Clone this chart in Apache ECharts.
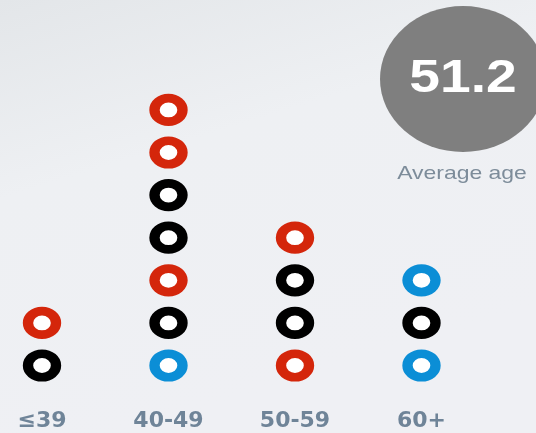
<!DOCTYPE html>
<html>
<head>
<meta charset="utf-8">
<title>Average age</title>
<script src="https://cdn.jsdelivr.net/npm/echarts@6/dist/echarts.min.js"></script>
<style>
  html, body { margin: 0; padding: 0; background: #eef0f4; }
  #chart { width: 536px; height: 433px; }
</style>
</head>
<body>
<div id="chart"></div>
<script>
// Age groups along the bottom
const ageGroups = ['≤39', '40-49', '50-59', '60+'];

// Each group's rings, listed bottom to top
const ringsUpTo39 = ['black', 'red'];
const rings40to49 = ['blue', 'black', 'red', 'black', 'black', 'red', 'red'];
const rings50to59 = ['red', 'black', 'black', 'red'];
const rings60plus = ['blue', 'black', 'blue'];

// Headline figure
const averageAge = '51.2';
const averageLabel = 'Average age';

const ringColors = { red: '#d4260b', black: '#000000', blue: '#0b8ed6' };

const stacks = [ringsUpTo39, rings40to49, rings50to59, rings60plus];

// One scatter series per ring colour; a point sits at (group, position in stack)
const series = Object.keys(ringColors).map(function (key) {
  const data = [];
  stacks.forEach(function (stack, gi) {
    stack.forEach(function (c, level) {
      if (c === key) data.push([ageGroups[gi], level + 1]);
    });
  });
  return {
    name: key,
    type: 'scatter',
    data: data,
    symbol: 'circle',
    symbolSize: [28, 23.5],
    itemStyle: {
      color: '#ffffff',
      borderColor: ringColors[key],
      borderWidth: 9.5,
      opacity: 1
    },
    emphasis: { disabled: true },
    silent: true
  };
});

const chart = echarts.init(document.getElementById('chart'), null, { renderer: 'canvas' });

chart.setOption({
  animation: false,
  backgroundColor: {
    type: 'linear', x: 0, y: 0, x2: 0.25, y2: 1,
    colorStops: [
      { offset: 0, color: '#e3e6e9' },
      { offset: 0.42, color: '#eef0f3' },
      { offset: 1, color: '#eff0f4' }
    ]
  },
  grid: { left: 42, right: 114.5, top: 67.3, bottom: 24.9, containLabel: false },
  xAxis: {
    type: 'category',
    data: ageGroups,
    boundaryGap: false,
    axisLine: { show: false },
    axisTick: { show: false },
    splitLine: { show: false },
    axisLabel: {
      margin: 2,
      color: '#6f8498',
      fontFamily: 'DejaVu Sans',
      fontWeight: 'bold',
      fontSize: 22
    }
  },
  yAxis: {
    type: 'value',
    min: 0,
    max: 8,
    interval: 1,
    show: false
  },
  series: series,
  graphic: [
    {
      type: 'circle',
      x: 463, y: 79,
      scaleX: 1.137,
      shape: { cx: 0, cy: 0, r: 73 },
      style: { fill: '#7f7f7f' },
      silent: true
    },
    {
      type: 'text',
      x: 463, y: 79,
      scaleX: 1.2,
      style: {
        text: averageAge,
        fill: '#ffffff',
        font: 'bold 46px "Liberation Sans"',
        align: 'center',
        verticalAlign: 'middle'
      },
      silent: true
    },
    {
      type: 'text',
      x: 462, y: 174,
      scaleX: 1.24,
      style: {
        text: averageLabel,
        fill: '#7d8c9a',
        font: '18.5px "Liberation Sans"',
        align: 'center',
        verticalAlign: 'middle'
      },
      silent: true
    }
  ]
});
</script>
</body>
</html>
